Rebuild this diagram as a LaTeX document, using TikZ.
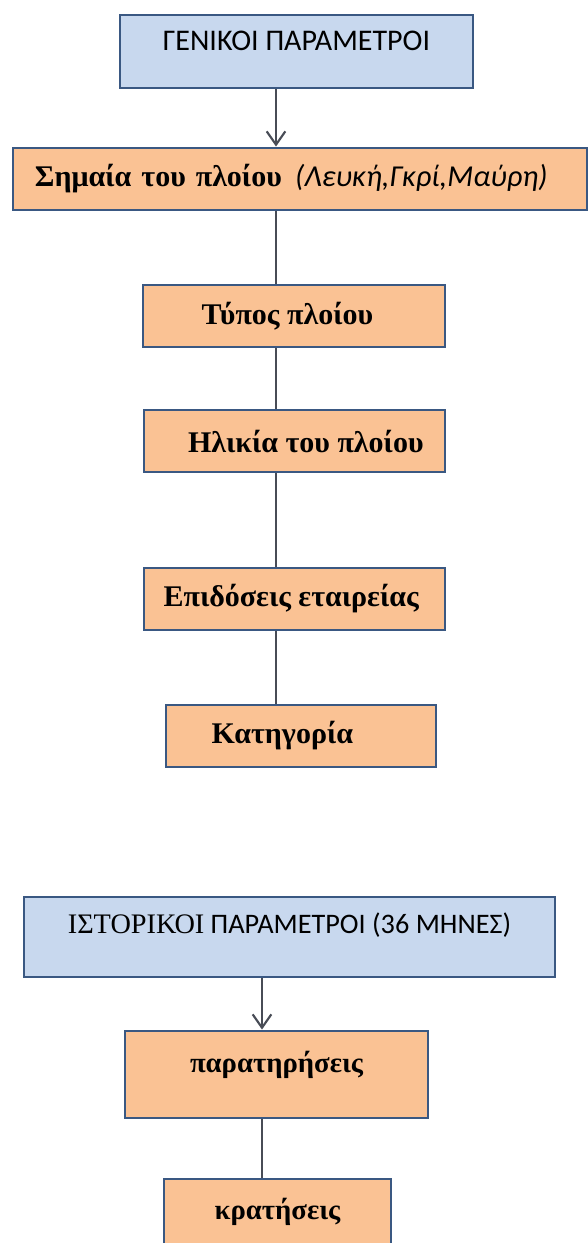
\documentclass[tikz,border=0pt]{standalone}
\usepackage{fontspec}
\setmainfont{Liberation Serif}
\setsansfont{Carlito}
\usetikzlibrary{arrows.meta}
\definecolor{headBlue}{RGB}{200,216,238}
\definecolor{stepOrange}{RGB}{250,194,148}
\definecolor{rimBlue}{RGB}{58,88,130}
\definecolor{wireGray}{RGB}{72,76,86}

\begin{document}
\begin{tikzpicture}
[x=0.75pt,y=-0.75pt,
  headDecorate/.style={draw=rimBlue,fill=headBlue,line width=2.2pt,inner sep=0pt,
    font=\sffamily\fontsize{22.5}{26}\selectfont},
  boxDecorate/.style={draw=rimBlue,fill=stepOrange,line width=2.2pt,inner sep=0pt,
    minimum height=46.5pt,font=\bfseries\fontsize{22.5}{26}\selectfont},
  raisedText/.style={text height=15pt,text depth=#1},
  lineDecorate/.style={-,draw=wireGray,line width=1.6pt},
  arrowDecorate/.style={lineDecorate,-{Straight Barb[length=10pt,width=14pt,line width=1.6pt]}}]
\useasboundingbox (0,0) rectangle (588,1243);
\clip (0,0) rectangle (588,1243);
\fill[white] (0,0) rectangle (588,1243);
%% general parameters
\node (gen) at (296.5,51.5) [headDecorate,raisedText=16pt,minimum width=264.75pt,minimum height=54.75pt]
  {ΓΕΝΙΚΟΙ ΠΑΡΑΜΕΤΡΟΙ};
\node (flag) at (300,179) [boxDecorate,minimum width=430.5pt,inner xsep=16.5pt,text width=397.5pt,align=left]
  {Σημαία του πλοίου\hspace{10pt}{\sffamily\mdseries\itshape\fontsize{22.8}{26}\selectfont (Λευκή,Γκρί,Μαύρη)}};
\foreach \nodename/\x/\y/\w/\txt in {
  type/294/316/226.5/{Τύπος πλοίου\kern10pt},
  age/294.5/441/225.75/{\kern17pt Ηλικία του πλοίου},
  perf/294.5/599/225.75/{Επιδόσεις εταιρείας\kern5pt},
  cat/301/736/202.5/{Κατηγορία\kern28pt}}
{
  \node (\nodename) at (\x,\y) [boxDecorate,minimum width=\w pt] {\txt};
}
%% historical parameters
\node (hist) at (289.5,937) [headDecorate,raisedText=21pt,minimum width=398.25pt,minimum height=60pt,
  font=\sffamily\fontsize{21.2}{25}\selectfont]
  {{\rmfamily ΙΣΤΟΡΙΚΟΙ} ΠΑΡΑΜΕΤΡΟΙ (36 ΜΗΝΕΣ)};
\node (obs) at (276.5,1074.5) [boxDecorate,raisedText=18pt,minimum width=227.25pt,minimum height=65.25pt,
  font=\bfseries\fontsize{21.5}{25}\selectfont] {παρατηρήσεις};
\node (ret) at (277.5,1222.5) [boxDecorate,raisedText=19pt,minimum width=170.25pt,minimum height=65.25pt,
  font=\bfseries\fontsize{21.5}{25}\selectfont] {κρατήσεις};
%% edges or lines
\coordinate (upperSpine) at (276,0);
\coordinate (lowerSpine) at (262,0);
\draw[arrowDecorate] (gen.south -| upperSpine) -- (flag.north -| upperSpine);
\path
\foreach \startnode/\endnode in {flag/type, type/age, age/perf, perf/cat}
{
  (\startnode.south -| upperSpine) edge[lineDecorate] (\endnode.north -| upperSpine)
};
\draw[arrowDecorate] (hist.south -| lowerSpine) -- (obs.north -| lowerSpine);
\draw[lineDecorate] (obs.south -| lowerSpine) -- (ret.north -| lowerSpine);
\end{tikzpicture}
\end{document}
